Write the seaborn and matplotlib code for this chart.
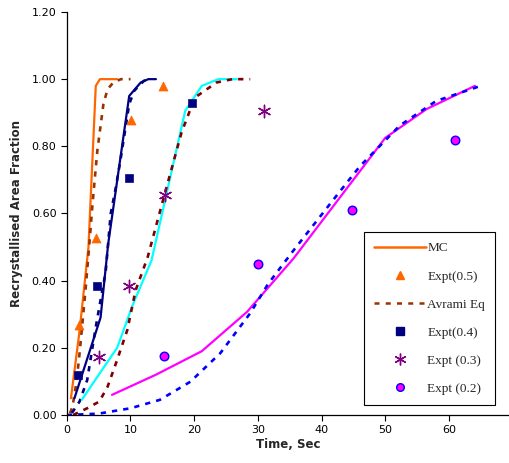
import matplotlib
matplotlib.use("Agg")
import matplotlib.pyplot as plt
import seaborn as sns
import pandas as pd
from matplotlib.lines import Line2D

# MC simulation curves
mc05_t = [0.65, 2.0, 3.4, 4.55, 5.2, 7.9]
mc05_y = [0.05, 0.25, 0.50, 0.98, 1.00, 1.00]
mc04_t = [1.2, 5.3, 6.5, 9.8, 11.6, 12.8, 14.0]
mc04_y = [0.05, 0.29, 0.51, 0.95, 0.99, 1.00, 1.00]
mc03_t = [2.35, 5.2, 7.9, 10.4, 13.3, 18.6, 21.2, 23.8, 26.7]
mc03_y = [0.045, 0.125, 0.20, 0.33, 0.46, 0.906, 0.98, 1.00, 1.00]
mc02_t = [7.1, 14.0, 21.2, 28.3, 35.6, 50.0, 56.5, 64.1]
mc02_y = [0.06, 0.12, 0.19, 0.307, 0.466, 0.825, 0.911, 0.98]

# Avrami equation curves
av05_t = [0.5, 0.9, 1.4, 1.9, 2.45, 3.0, 3.65, 4.0, 4.4, 4.8, 5.75, 6.4, 7.3, 8.5, 10.0]
av05_y = [0.005, 0.025, 0.084, 0.163, 0.273, 0.386, 0.535, 0.62, 0.705, 0.788, 0.926, 0.97, 0.99, 1.0, 1.0]
av04_t = [0.8, 2.0, 3.2, 4.55, 5.3, 6.1, 6.9, 7.7, 8.5, 9.8, 10.6, 12.1, 13.0]
av04_y = [0.006, 0.04, 0.104, 0.262, 0.342, 0.426, 0.60, 0.678, 0.768, 0.926, 0.966, 0.995, 1.0]
av03_t = [1.0, 3.2, 5.1, 6.4, 7.7, 9.5, 10.8, 12.7, 15.4, 18.0, 20.1, 23.5, 26.0, 28.8]
av03_y = [0.0, 0.02, 0.04, 0.084, 0.153, 0.253, 0.371, 0.47, 0.66, 0.84, 0.945, 0.99, 1.0, 1.0]
av02_t = [0.0, 5.0, 10.0, 14.6, 19.4, 24.1, 28.8, 31.6, 35.6, 42.4, 46.0, 52.3, 58.0, 65.0]
av02_y = [0.0, 0.004, 0.02, 0.045, 0.099, 0.184, 0.303, 0.39, 0.49, 0.654, 0.74, 0.862, 0.935, 0.98]

# Experimental points
ex05_t = [1.9, 4.6, 10.1, 15.1]
ex05_y = [0.267, 0.526, 0.877, 0.98]
ex04_t = [1.8, 4.7, 9.8, 19.6]
ex04_y = [0.119, 0.383, 0.707, 0.928]
ex03_t = [5.0, 9.8, 15.4, 30.9]
ex03_y = [0.173, 0.383, 0.654, 0.906]
ex02_t = [15.2, 30.1, 44.8, 61.0]
ex02_y = [0.175, 0.449, 0.609, 0.82]

sns.set_style("ticks")
plt.rcParams['font.family'] = ['DejaVu Sans']

fig = plt.figure(figsize=(5.10, 4.63), dpi=100)
ax = fig.add_axes([0.131, 0.1037, 0.869, 0.8704])

def line(t, y, color, dashed=False):
    df = pd.DataFrame({"t": t, "y": y})
    sns.lineplot(data=df, x="t", y="y", ax=ax, color=color, sort=False,
                 estimator=None, lw=1.9 if dashed else 1.6,
                 linestyle=(0, (2.0, 2.3)) if dashed else "-", zorder=2)

line(mc05_t, mc05_y, "#FF6600")
line(av05_t, av05_y, "#993300", True)
line(mc04_t, mc04_y, "#000080")
line(av04_t, av04_y, "#000080", True)
line(mc03_t, mc03_y, "#00FFFF")
line(av03_t, av03_y, "#800000", True)
line(mc02_t, mc02_y, "#FF00FF")
line(av02_t, av02_y, "#0000FF", True)

sns.scatterplot(x=ex05_t, y=ex05_y, ax=ax, marker="^", s=42, color="#FF6600", edgecolor="#FF6600", zorder=3)
sns.scatterplot(x=ex04_t, y=ex04_y, ax=ax, marker="s", s=34, color="#000080", edgecolor="#000080", zorder=3)
sns.scatterplot(x=ex03_t, y=ex03_y, ax=ax, marker=(6, 2, 0), s=80, color="#800080", edgecolor="#800080", linewidth=1.0, zorder=3)
sns.scatterplot(x=ex02_t, y=ex02_y, ax=ax, marker="o", s=38, color="#FF00FF", edgecolor="#0000FF", linewidth=1.0, zorder=3)

ax.set_xlim(0, 69.6)
ax.set_ylim(0, 1.2)
ax.set_xticks([0, 10, 20, 30, 40, 50, 60])
ax.set_yticks([0, 0.2, 0.4, 0.6, 0.8, 1.0, 1.2])
ax.set_yticklabels([f"{v:.2f}" for v in [0, 0.2, 0.4, 0.6, 0.8, 1.0, 1.2]])
ax.tick_params(labelsize=8, length=4, width=0.8, color="black", labelcolor="black")
for s in ["top", "right"]:
    ax.spines[s].set_visible(False)
for s in ["left", "bottom"]:
    ax.spines[s].set_color("black")
    ax.spines[s].set_linewidth(0.9)
ax.set_xlabel("Time, Sec", fontsize=8.5, fontweight="bold", labelpad=2)
ax.set_ylabel("Recrystallised Area Fraction", fontsize=8.5, fontweight="bold", labelpad=6)

handles = [
    Line2D([], [], color="#FF6600", lw=1.8),
    Line2D([], [], color="#FF6600", marker="^", ls="none", ms=5.5),
    Line2D([], [], color="#993300", lw=1.8, ls=(0, (2.0, 2.5))),
    Line2D([], [], color="#000080", marker="s", ls="none", ms=5.5),
    Line2D([], [], color="#800080", marker=(6, 2, 0), ls="none", ms=8.5, mew=1.0),
    Line2D([], [], color="#FF00FF", marker="o", mec="#0000FF", ls="none", ms=5.5),
]
labels = ["MC", "Expt(0.5)", "Avrami Eq", "Expt(0.4)", "Expt (0.3)", "Expt (0.2)"]
leg = ax.legend(handles, labels, loc="lower right", bbox_to_anchor=(0.982, 0.0075),
                prop={"family": "Liberation Serif", "size": 9.5}, handlelength=3.9,
                labelspacing=1.2, handletextpad=0.1, borderpad=0.8, fancybox=False,
                frameon=True, edgecolor="black", framealpha=1)
leg.get_frame().set_linewidth(0.8)

fig.savefig("out.png", dpi=100)
